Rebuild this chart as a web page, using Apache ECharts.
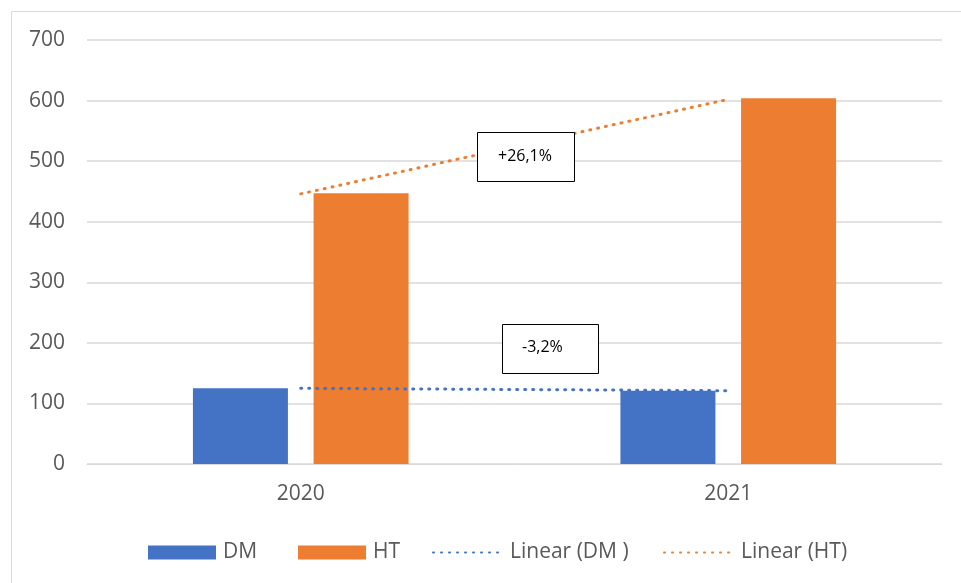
<!DOCTYPE html>
<html>
<head>
<meta charset="utf-8">
<script src="https://cdn.jsdelivr.net/npm/echarts@6/dist/echarts.min.js"></script>
<style>html,body{margin:0;padding:0;background:#fff}#c{width:961px;height:583px}</style>
</head>
<body>
<div id="c"></div>
<script>
const categories = ['2020', '2021'];
const dmValues = [125, 121];
const htValues = [447, 604];
const dmTrend = [125, 121];
const htTrend = [446, 602];
const annotations = ['+26,1%', '-3,2%'];
const legendNames = ['DM', 'HT', 'Linear (DM )', 'Linear (HT)'];

const FONT = 'Open Sans';
const legendLeft = [148, 298, 432, 663];
function mkLegend(i) {
  const isLine = i >= 2;
  return {
    left: legendLeft[i], top: 542, padding: 0, itemWidth: isLine ? 70 : 68, itemHeight: 14, itemGap: 7,
    selectedMode: false,
    textStyle: {fontSize: 21, color: '#595959', fontFamily: FONT, padding: [0, 0, 0, 2]},
    data: [isLine ? {name: legendNames[i], itemStyle: {opacity: 0}} : {name: legendNames[i], icon: 'rect'}]
  };
}
const chart = echarts.init(document.getElementById('c'), null, {renderer: 'canvas'});
chart.setOption({
  animation: false,
  textStyle: {fontFamily: FONT},
  grid: {left: 87, right: 19, top: 40, bottom: 119, containLabel: false},
  legend: [0, 1, 2, 3].map(mkLegend),
  xAxis: {
    type: 'category', data: categories,
    axisLine: {lineStyle: {color: '#d9d9d9', width: 1}},
    axisTick: {show: false},
    axisLabel: {color: '#595959', fontSize: 21, margin: 20}
  },
  yAxis: {
    type: 'value', min: 0, max: 700, interval: 100,
    axisLine: {show: false}, axisTick: {show: false},
    splitLine: {lineStyle: {color: '#d9d9d9', width: 1.5}},
    axisLabel: {color: '#595959', fontSize: 21, margin: 22}
  },
  series: [
    {name: legendNames[0], type: 'bar', data: dmValues, barWidth: 95, barGap: '27%', itemStyle: {color: '#4472C4'}},
    {name: legendNames[1], type: 'bar', data: htValues, barWidth: 95, itemStyle: {color: '#ED7D31'}},
    {name: legendNames[2], type: 'line', data: dmTrend, symbol: 'none', z: 5,
      itemStyle: {color: '#4472C4'},
      lineStyle: {color: '#4472C4', width: 3, type: [1, 7], cap: 'round'}},
    {name: legendNames[3], type: 'line', data: htTrend, symbol: 'none', z: 5,
      itemStyle: {color: '#ED7D31'},
      lineStyle: {color: '#ED7D31', width: 3, type: [1, 7], cap: 'round'}}
  ],
  graphic: [
    {type: 'rect', shape: {x: 11.5, y: 11.5, width: 1200, height: 1200}, style: {fill: 'none', stroke: '#d9d9d9', lineWidth: 1}, z: -1},
    {type: 'rect', shape: {x: 477.5, y: 132.5, width: 97, height: 49}, style: {fill: '#fff', stroke: '#000', lineWidth: 1}, z: 100},
    {type: 'text', x: 525, y: 156, style: {text: annotations[0], fontSize: 16, fontFamily: FONT, fill: '#000', align: 'center', verticalAlign: 'middle'}, z: 101},
    {type: 'rect', shape: {x: 502.5, y: 324.5, width: 96, height: 49}, style: {fill: '#fff', stroke: '#000', lineWidth: 1}, z: 100},
    {type: 'text', x: 522, y: 347, style: {text: annotations[1], fontSize: 16, fontFamily: FONT, fill: '#000', align: 'left', verticalAlign: 'middle'}, z: 101}
  ]
});
</script>
</body>
</html>
